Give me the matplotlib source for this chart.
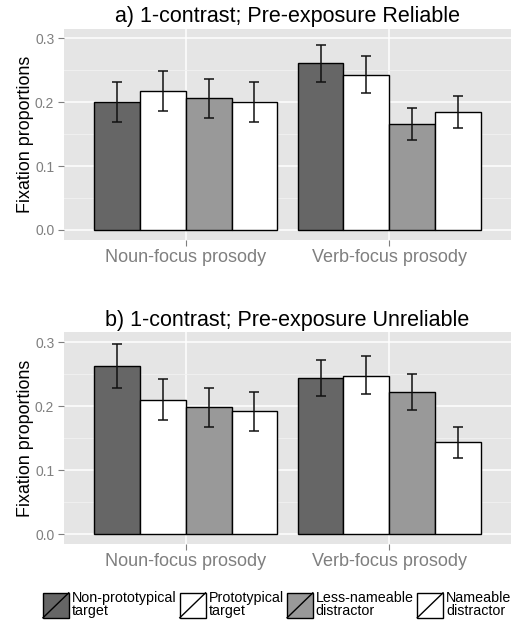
import matplotlib
matplotlib.use("Agg")
import matplotlib.pyplot as plt
import numpy as np
from matplotlib.patches import Rectangle
from matplotlib.lines import Line2D
from matplotlib.legend_handler import HandlerBase

plt.rcParams['font.family'] = ['Liberation Sans', 'DejaVu Sans']

prosody = ["Noun-focus prosody", "Verb-focus prosody"]
picture_types = ["Non-prototypical\ntarget", "Prototypical\ntarget",
                 "Less-nameable\ndistractor", "Nameable\ndistractor"]
fills = ["#666666", "#FFFFFF", "#999999", "#FFFFFF"]

titles = ["a) 1-contrast; Pre-exposure Reliable",
          "b) 1-contrast; Pre-exposure Unreliable"]

# values [type][prosody]
reliable_mean = [[0.200, 0.261], [0.218, 0.243], [0.206, 0.166], [0.200, 0.184]]
reliable_lo = [[0.169, 0.232], [0.186, 0.215], [0.175, 0.141], [0.169, 0.159]]
reliable_hi = [[0.231, 0.290], [0.249, 0.272], [0.237, 0.191], [0.231, 0.209]]

unreliable_mean = [[0.263, 0.244], [0.210, 0.248], [0.199, 0.222], [0.193, 0.144]]
unreliable_lo = [[0.229, 0.216], [0.178, 0.220], [0.168, 0.195], [0.162, 0.120]]
unreliable_hi = [[0.297, 0.273], [0.242, 0.278], [0.229, 0.251], [0.223, 0.168]]

yticks = [0.0, 0.1, 0.2, 0.3]
ytick_labels = ["0.0", "0.1", "0.2", "0.3"]

W, H = 518, 621
fig = plt.figure(figsize=(W / 100, H / 100), dpi=100)

panels = [
    (reliable_mean, reliable_lo, reliable_hi, [64, 29, 511, 240], (-0.0157, 0.3146), 5),
    (unreliable_mean, unreliable_lo, unreliable_hi, [64, 331.7, 511, 544.3], (-0.0156, 0.3166), 4),
]

grey50 = "#7F7F7F"
dodge = 0.9
bw = dodge / 4

for i, (mean, lo, hi, box, ylim, tpad) in enumerate(panels):
    l, t, r, b = box
    ax = fig.add_axes([l / W, 1 - b / H, (r - l) / W, (b - t) / H])
    ax.set_facecolor("#E5E5E5")
    x = np.arange(1, len(prosody) + 1)
    for k in range(len(picture_types)):
        xs = x - dodge / 2 + bw * (k + 0.5)
        m = np.array(mean[k]); lo_ = np.array(lo[k]); hi_ = np.array(hi[k])
        ax.bar(xs, m, width=bw, color=fills[k], edgecolor="black", linewidth=1.0, zorder=3)
        ax.errorbar(xs, m, yerr=[m - lo_, hi_ - m], fmt="none", ecolor="#111111",
                    elinewidth=1.1, capsize=3.3, capthick=1.1, zorder=4)
    ax.set_xlim(0.4, 2.6)
    ax.set_ylim(*ylim)
    ax.set_yticks(yticks)
    ax.set_yticklabels(ytick_labels)
    ax.set_yticks([0.05, 0.15, 0.25], minor=True)
    ax.set_xticks(x)
    ax.set_xticklabels(prosody)
    ax.grid(True, which="major", color="white", linewidth=1.1, zorder=0)
    ax.grid(True, which="minor", axis="y", color="#F2F2F2", linewidth=0.6, zorder=0)
    ax.set_axisbelow(True)
    for s in ax.spines.values():
        s.set_visible(False)
    ax.tick_params(axis="y", which="major", colors=grey50, labelsize=10, length=4, width=0.8, pad=3)
    ax.tick_params(axis="x", which="major", colors=grey50, labelsize=13, length=4, width=0.8, pad=2.5)
    ax.tick_params(which="minor", length=0)
    ax.set_ylabel("Fixation proportions", fontsize=12.9, labelpad=1)
    ax.set_title(titles[i], fontsize=15.5, pad=tpad)


class SlashHandler(HandlerBase):
    def create_artists(self, legend, orig_handle, xdescent, ydescent, width, height, fontsize, trans):
        rect = Rectangle((-xdescent, -ydescent), width, height,
                         facecolor=orig_handle.get_facecolor(), edgecolor="black",
                         linewidth=1.0, transform=trans)
        line = Line2D([-xdescent, -xdescent + width], [-ydescent, -ydescent + height],
                      color="black", linewidth=1.0, transform=trans)
        return [rect, line]


handles = [Rectangle((0, 0), 1, 1, facecolor=f) for f in fills]
leg = fig.legend(handles, picture_types, loc="center", bbox_to_anchor=(0.535, 0.027),
                 ncol=4, frameon=False, fontsize=10.3, handlelength=1.8, handleheight=2.3,
                 handletextpad=0.2, columnspacing=0.25, borderpad=0, borderaxespad=0,
                 handler_map={Rectangle: SlashHandler()})
for txt in leg.get_texts():
    txt.set_linespacing(0.95)

fig.savefig("out.png", dpi=100)
